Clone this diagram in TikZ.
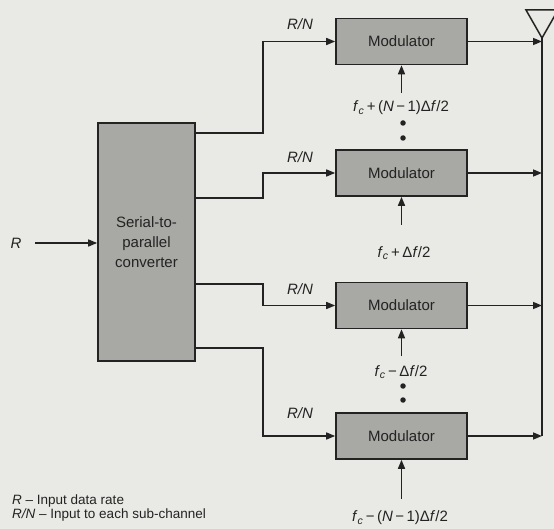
\documentclass[tikz,border=0pt]{standalone}
\usepackage{fontspec}
\setmainfont{Liberation Sans}
\usetikzlibrary{arrows.meta, positioning}

\definecolor{scanbg}{RGB}{233,233,229}
\definecolor{boxgray}{RGB}{168,168,164}
\definecolor{ink}{RGB}{35,35,35}
\newcommand{\fc}{\textit{f}\textsubscript{\textit{c}}}

\begin{document}
\begin{tikzpicture}[
    x=1pt, y=-1pt,
    >={Triangle[length=9pt,width=7pt]},
    font=\fontsize{15}{20}\selectfont,
    text=ink,
    blk/.style={rectangle, draw=ink, fill=boxgray, line width=1.6pt, inner sep=0pt},
    mod/.style={blk, minimum width=131pt, minimum height=46pt},
    conv/.style={blk, minimum width=97pt, minimum height=238pt, align=center},
    lbl/.style={inner sep=1pt},
    key/.style={inner sep=0pt, anchor=west, align=left, font=\fontsize{13.5}{11.5}\selectfont},
    arr/.style={->, draw=ink, line width=1.5pt},
    wire/.style={draw=ink, line width=1.5pt, line join=miter},
    dot/.style={circle, fill=ink, inner sep=0pt, minimum size=5.5pt},
]
    \useasboundingbox (0,0) rectangle (554,529);
    \fill[scanbg] (0,0) rectangle (554,529);

    % column positions
    \def\colM{401.5}
    \def\jogX{263}

    % converter and input
    \node[conv] (sp) at (146.5,242) {Serial-to-\\parallel\\converter};
    \node[lbl] (rin) at (16,243) {\textit{R}};
    \coordinate (rtail) at (35,243);
    \draw[arr] (rtail) -- (rtail -| sp.west);

    % modulators
    \node[mod] (m1) at (\colM,41.5) {Modulator};
    \node[mod] (m2) at (\colM,173) {Modulator};
    \node[mod] (m3) at (\colM,305.5) {Modulator};
    \node[mod] (m4) at (\colM,436) {Modulator};

    % converter taps
    \coordinate (s1) at (195,133);
    \coordinate (s2) at (195,198);
    \coordinate (s3) at (195,284);
    \coordinate (s4) at (195,348);
    \coordinate (jog) at (\jogX,0);
    \draw[arr] (s1) -- (s1 -| jog) |- (m1.west);
    \draw[arr] (s2) -- (s2 -| jog) |- (m2.west);
    \draw[arr] (s3) -- (s3 -| jog) |- (m3.west);
    \draw[arr] (s4) -- (s4 -| jog) |- (m4.west);

    \node[lbl] (rn1) at (300,24) {\textit{R/N}};
    \node[lbl] (rn2) at (300,157) {\textit{R/N}};
    \node[lbl] (rn3) at (300,289) {\textit{R/N}};
    \node[lbl] (rn4) at (300,413) {\textit{R/N}};

    % carrier inputs
    \coordinate (c1) at (\colM,93);
    \coordinate (c2) at (\colM,225);
    \coordinate (c3) at (\colM,356);
    \coordinate (c4) at (\colM,499);
    \draw[arr] (c1) -- (m1.south);
    \draw[arr] (c2) -- (m2.south);
    \draw[arr] (c3) -- (m3.south);
    \draw[arr] (c4) -- (m4.south);

    \node[lbl] (f1) at (401,108) {\fc\,+\,(\textit{N}\,−\,1)Δ\textit{f}/2};
    \node[lbl] (f2) at (404,253) {\fc\,+\,Δ\textit{f}/2};
    \node[lbl] (f3) at (401,372) {\fc\,−\,Δ\textit{f}/2};
    \node[lbl] (f4) at (400,518) {\fc\,−\,(\textit{N}\,−\,1)Δ\textit{f}/2};

    \node[dot] (d1) at (403,123) {};
    \node[dot] (d2) at (403,138) {};
    \node[dot] (d3) at (403,386) {};
    \node[dot] (d4) at (403,400) {};

    % combiner bus and antenna
    \coordinate (ant) at (542,38);
    \draw[wire] (ant) -- (526,10) -- (558,10) -- cycle;
    \draw[wire] (ant) -- (ant |- m4.east);
    \draw[arr] (m1.east) -- (m1.east -| ant);
    \draw[arr] (m2.east) -- (m2.east -| ant);
    \draw[arr] (m3.east) -- (m3.east -| ant);
    \draw[arr] (m4.east) -- (m4.east -| ant);

    % legend
    \node[key] (legend) at (12,508)
        {\textit{R} – Input data rate\\\textit{R/N} – Input to each sub-channel};
\end{tikzpicture}
\end{document}
